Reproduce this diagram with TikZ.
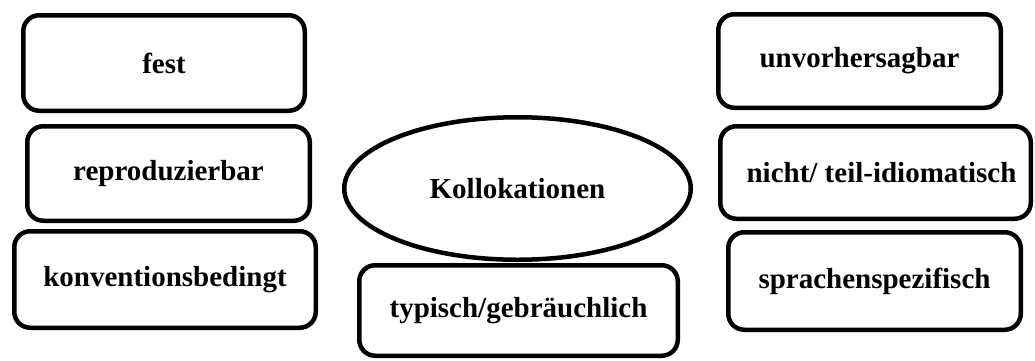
\documentclass[tikz,border=0pt]{standalone}
\usepackage{fontspec}
\setmainfont{Liberation Serif}
\usetikzlibrary{shapes.geometric}
\tikzset{
  box/.style={draw=black, line width=4.5pt, rounded corners=16pt, fill=white,
    inner sep=0pt, outer sep=0pt, font=\fontsize{29}{34}\selectfont\bfseries},
  oval/.style={draw=black, line width=4.5pt, ellipse, fill=white,
    inner sep=0pt, outer sep=0pt, font=\fontsize{29}{34}\selectfont\bfseries}
}
\begin{document}
\begin{tikzpicture}[x=1pt,y=-1pt]
\path[use as bounding box, fill=white] (0,0) rectangle (1035,360);
% left column
\node[box, minimum width=281.5pt, minimum height=95.5pt] (fest) at (164,63) {fest};
\node[box, minimum width=282.5pt, minimum height=94.5pt] (repro) at (168.5,173.5) {reproduzierbar};
\node[box, minimum width=301.5pt, minimum height=96.5pt] (konv) at (165,279.5) {konventionsbedingt};
% centre
\node[oval, minimum width=346.5pt, minimum height=142.5pt] (koll) at (517.5,188.5) {Kollokationen};
\node[box, minimum width=318.5pt, minimum height=90.5pt] (typ) at (518.5,310.5) {typisch/gebräuchlich};
% right column
\node[box, minimum width=282.5pt, minimum height=93.5pt] (unvor) at (859.5,61) {unvorhersagbar};
\node[box, minimum width=310.5pt, minimum height=92.5pt] (nicht) at (875.5,172.5) {\hspace*{12pt}nicht/ teil-idiomatisch};
\node[box, minimum width=292.5pt, minimum height=97.5pt] (sprach) at (874.5,281) {sprachenspezifisch};
\end{tikzpicture}
\end{document}
